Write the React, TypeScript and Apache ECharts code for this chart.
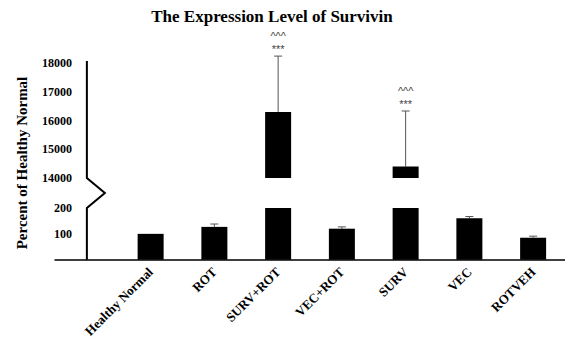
import React, { useEffect, useRef } from 'react';
import * as echarts from 'echarts';

const categories = ['Healthy Normal', 'ROT', 'SURV+ROT', 'VEC+ROT', 'SURV', 'VEC', 'ROTVEH'];
const means = [100, 127, 16300, 120, 14400, 160, 85];
const sds = [0, 11, 1940, 7, 1930, 7, 6];
const sigStars = ['', '', '***', '', '***', '', ''];
const sigCarets = ['', '', '^^^', '', '^^^', '', ''];
const lowerAxis = { min: 0, max: 200, interval: 100 };
const upperAxis = { min: 14000, max: 18000, interval: 1000 };

const SERIF = '"Liberation Serif", "Times New Roman", serif';
const SANS = '"Liberation Sans", Arial, sans-serif';

export default function App() {
  const ref = useRef<HTMLDivElement>(null);
  useEffect(() => {
    document.body.style.margin = '0';
    const chart = echarts.init(ref.current!, null, { renderer: 'svg' });
    const xCats = ['', ...categories];
    const lowerBars: any[] = ['-', ...means.map((v) => Math.min(v, lowerAxis.max))];
    const upperBars: any[] = ['-', ...means.map((v) => (v > upperAxis.min ? v : '-'))];
    const lowerErr = means
      .map((m, i) => [i + 1, m, m + sds[i]])
      .filter((d, i) => d[1] <= lowerAxis.max && sds[i] > 0);
    const upperErr = means
      .map((m, i) => [i + 1, m, m + sds[i]])
      .filter((d, i) => d[1] > upperAxis.min && sds[i] > 0);

    const renderErr = (params: any, api: any) => {
      const x = api.value(0);
      const top = api.coord([x, api.value(1)]);
      const err = api.coord([x, api.value(2)]);
      const ci = x - 1;
      const stroke = '#555';
      const children: any[] = [
        { type: 'line', shape: { x1: top[0], y1: top[1], x2: err[0], y2: err[1] }, style: { stroke, lineWidth: 1 } },
        { type: 'line', shape: { x1: err[0] - 4, y1: err[1], x2: err[0] + 4, y2: err[1] }, style: { stroke, lineWidth: 1 } },
      ];
      const sig = [sigCarets[ci], sigStars[ci]].filter(Boolean).join('\n');
      if (sig) {
        children.push({
          type: 'text', x: err[0], y: err[1] - 1,
          style: { text: sig, align: 'center', verticalAlign: 'bottom', lineHeight: 13, fontSize: 11, fill: '#444', fontFamily: SANS },
        });
      }
      return { type: 'group', children };
    };

    const axisLabelStyle = { fontFamily: SERIF, fontWeight: 'bold' as const, fontSize: 12, color: '#000' };
    const plain = (v: number) => String(v);

    chart.setOption({
      animation: false,
      title: {
        text: 'The Expression Level of Survivin',
        left: 272, top: 8, padding: 0, textAlign: 'center',
        textStyle: { fontFamily: SERIF, fontWeight: 'bold', fontSize: 17, color: '#000' },
      },
      grid: [
        { left: 55, width: 522, top: 208, height: 55 },
        { left: 55, width: 522, top: 63, height: 115 },
      ],
      xAxis: [
        {
          type: 'category', gridIndex: 0, data: xCats,
          axisLine: { lineStyle: { color: '#000', width: 1.5 } },
          axisTick: { show: false },
          axisLabel: { ...axisLabelStyle, fontSize: 13, rotate: 45, interval: 0, margin: 10 },
        },
        { type: 'category', gridIndex: 1, data: xCats, show: false },
      ],
      yAxis: [
        {
          type: 'value', gridIndex: 0, min: lowerAxis.min, max: lowerAxis.max, interval: lowerAxis.interval,
          offset: -33,
          axisLine: { show: false }, axisTick: { show: false }, splitLine: { show: false },
          axisLabel: { ...axisLabelStyle, margin: 16, showMinLabel: false, formatter: plain },
        },
        {
          type: 'value', gridIndex: 1, min: upperAxis.min, max: upperAxis.max, interval: upperAxis.interval,
          offset: -33,
          axisLine: { show: false }, axisTick: { show: false }, splitLine: { show: false },
          axisLabel: { ...axisLabelStyle, margin: 16, formatter: plain },
        },
      ],
      series: [
        { type: 'bar', xAxisIndex: 0, yAxisIndex: 0, data: lowerBars, barWidth: 26, itemStyle: { color: '#000' } },
        { type: 'bar', xAxisIndex: 1, yAxisIndex: 1, data: upperBars, barWidth: 26, itemStyle: { color: '#000' } },
        { type: 'custom', xAxisIndex: 0, yAxisIndex: 0, data: lowerErr, renderItem: renderErr, clip: false },
        { type: 'custom', xAxisIndex: 1, yAxisIndex: 1, data: upperErr, renderItem: renderErr, clip: false },
      ],
    });

    const ax = chart.convertToPixel({ xAxisIndex: 0 }, 0) as number;
    const yTop = chart.convertToPixel({ yAxisIndex: 1 }, upperAxis.max) as number;
    const yBreakHi = chart.convertToPixel({ yAxisIndex: 1 }, upperAxis.min) as number;
    const yBreakLo = chart.convertToPixel({ yAxisIndex: 0 }, lowerAxis.max) as number;
    const yBase = chart.convertToPixel({ yAxisIndex: 0 }, lowerAxis.min) as number;

    chart.setOption({
      graphic: [
        {
          type: 'polyline',
          shape: {
            points: [
              [ax, yTop - 2],
              [ax, yBreakHi],
              [ax + 18, (yBreakHi + yBreakLo) / 2],
              [ax, yBreakLo],
              [ax, yBase],
            ],
          },
          style: { stroke: '#000', lineWidth: 2, fill: 'none' },
          z: 10,
        },
        {
          type: 'text', x: 22, y: 163, rotation: Math.PI / 2,
          style: {
            text: 'Percent of Healthy Normal', align: 'center', verticalAlign: 'middle',
            fontFamily: SERIF, fontWeight: 'bold', fontSize: 15, fill: '#000',
          },
        },
      ],
    });

    return () => chart.dispose();
  }, []);
  return <div ref={ref} style={{ width: 565, height: 340 }} />;
}
